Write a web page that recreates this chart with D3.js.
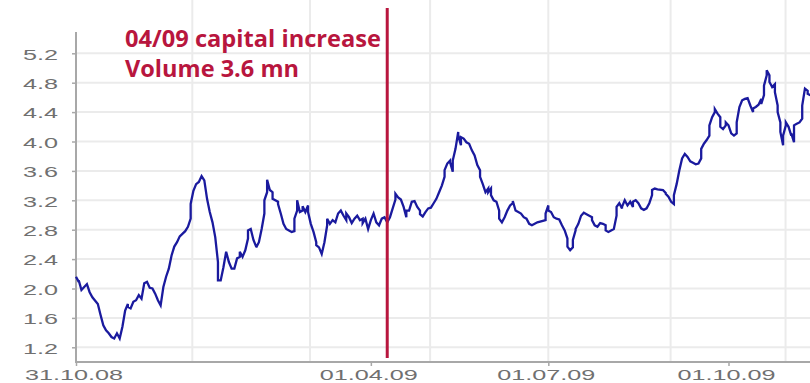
<!DOCTYPE html>
<html>
<head>
<meta charset="utf-8">
<script src="https://cdn.jsdelivr.net/npm/d3@7"></script>
<style>
  html, body { margin: 0; padding: 0; background: #fff; }
  svg { display: block; }
</style>
</head>
<body>
<svg id="chart" width="810" height="383"></svg>
<script>
// Share price, trading sessions counted from 31.10.08
const sessions = [
  0,1,1,2,3,4,5,6,8,9,10,11,12,13,14,15,16,17,18,19,19,20,21,22,23,24,25,26,27,28,
  29,30,31,32,33,34,35,36,37,38,40,41,42,42,43,44,45,46,47,48,49,50,51,52,52,53,54,55,56,57,
  58,59,60,60,61,62,63,63,64,65,66,66,67,68,69,69,70,70,71,72,72,74,74,75,76,77,78,79,80,80,
  81,81,82,83,83,84,85,85,86,87,88,88,89,90,91,92,92,93,94,95,96,97,98,99,99,100,101,102,103,104,
  105,105,106,107,108,109,110,111,112,113,114,115,116,117,117,118,119,120,121,121,122,123,124,125,126,126,127,128,129,130,
  131,132,133,134,135,135,136,137,137,138,138,139,140,140,141,141,142,143,144,145,146,147,148,148,149,150,151,151,152,152,
  153,154,155,155,156,157,158,159,160,160,161,162,163,164,165,166,167,168,169,171,172,172,173,173,174,175,176,177,178,179,
  180,180,181,182,182,183,183,184,185,186,187,188,189,189,190,191,192,193,194,194,195,196,197,198,198,199,200,200,201,202,
  203,204,204,205,206,207,208,209,210,211,211,212,213,215,216,216,217,218,219,219,220,221,222,223,224,225,226,227,228,229,
  229,230,231,232,232,233,234,234,235,236,236,237,238,238,239,240,241,242,242,243,244,245,246,247,248,248,249,250,251,251,
  252,252,253,253,254,254,255,256,256,257,257,258,258,259,259,260,260,261,262,262,263,263,264,265,266,266,267,268,268,269
];
const prices = [
  2.16,2.09,2.11,1.98,2.02,2.06,1.95,1.88,1.79,1.64,1.50,1.43,1.39,1.34,1.32,1.39,1.32,1.48,1.70,1.79,1.75,1.73,1.82,1.84,1.91,1.86,2.07,2.09,2.01,2.00,
  1.93,1.84,1.77,2.02,2.16,2.27,2.45,2.57,2.63,2.71,2.78,2.84,2.95,3.15,3.33,3.42,3.45,3.53,3.47,3.22,3.04,2.90,2.70,2.36,2.11,2.11,2.29,2.50,2.36,2.27,
  2.27,2.41,2.43,2.50,2.43,2.52,2.68,2.79,2.81,2.66,2.57,2.56,2.63,2.81,3.02,3.20,3.31,3.48,3.34,3.31,3.22,3.18,3.15,3.02,2.88,2.81,2.79,2.77,2.78,2.95,
  3.06,3.20,3.04,3.06,3.12,3.04,3.13,3.04,2.88,2.77,2.63,2.59,2.56,2.47,2.63,2.86,2.95,2.88,2.93,2.90,3.02,3.06,2.99,2.93,3.02,2.97,2.89,2.95,2.99,2.93,
  2.95,2.89,2.95,2.81,2.93,3.02,2.90,2.86,2.95,2.97,2.90,2.97,3.09,3.21,3.29,3.24,3.21,3.11,2.97,3.06,3.06,3.18,3.19,3.11,3.06,3.01,2.98,3.04,3.09,3.10,
  3.16,3.22,3.31,3.40,3.52,3.61,3.70,3.74,3.72,3.59,3.74,3.90,4.13,4.08,3.95,4.06,4.04,3.99,3.97,3.88,3.81,3.68,3.61,3.52,3.42,3.31,3.36,3.31,3.36,3.27,
  3.20,3.18,3.06,2.95,2.90,2.97,3.06,3.13,3.16,3.19,3.06,3.04,3.02,2.97,2.95,2.88,2.86,2.88,2.90,2.92,2.93,3.02,3.13,3.06,3.04,2.97,2.95,2.94,2.86,2.79,
  2.68,2.57,2.52,2.56,2.66,2.79,2.81,2.88,2.99,3.03,3.01,2.99,2.97,2.93,2.86,2.84,2.89,2.88,2.86,2.79,2.77,2.79,2.81,2.99,3.11,3.16,3.09,3.11,3.20,3.13,
  3.18,3.11,3.18,3.20,3.16,3.09,3.07,3.09,3.16,3.27,3.34,3.36,3.35,3.34,3.30,3.29,3.25,3.18,3.15,3.27,3.42,3.61,3.77,3.83,3.79,3.73,3.71,3.69,3.70,3.77,
  3.90,3.97,4.02,4.08,4.22,4.33,4.40,4.44,4.38,4.33,4.20,4.17,4.22,4.26,4.22,4.11,4.08,4.11,4.26,4.47,4.56,4.58,4.59,4.49,4.40,4.45,4.47,4.50,4.58,4.51,
  4.63,4.76,4.90,4.97,4.90,4.81,4.74,4.78,4.67,4.49,4.40,4.26,4.13,3.95,4.08,4.22,4.26,4.20,4.08,4.11,3.99,4.22,4.24,4.26,4.31,4.49,4.72,4.69,4.65,4.63
];

// Axis ticks
const yTicks = [1.2, 1.6, 2.0, 2.4, 2.8, 3.2, 3.6, 4.0, 4.4, 4.8, 5.2];
const xTickSessions = [0, 108, 173, 239];
const xTickLabels = ["31.10.08", "01.04.09", "01.07.09", "01.10.09"];
const xGridSessions = [42.6, 85.7, 129.7, 173, 217.8, 259.9];

// Event marker: capital increase, 9 April 2009
const markerSession = 114;
const markerNote = ["04/09 capital increase", "Volume 3.6 mn"];

const svg = d3.select("#chart");
const W = 810, H = 383;
const left = 76, bottom = 362;

const x = d3.scaleLinear().domain([0, 269]).range([left, 810.4]);
const y = d3.scaleLinear().domain([1.0, 5.5]).range([bottom, 31.25]);

const gridColor = "#ebebeb";
const axisColor = "#a8a8a8";
const labelColor = "#707070";
const red = "#b8163e";

// Horizontal grid
svg.append("g").selectAll("line").data(yTicks).join("line")
  .attr("x1", left).attr("x2", W)
  .attr("y1", d => y(d)).attr("y2", d => y(d))
  .attr("stroke", gridColor).attr("stroke-width", 2);

// Vertical grid
svg.append("g").selectAll("line").data(xGridSessions).join("line")
  .attr("x1", d => x(d)).attr("x2", d => x(d))
  .attr("y1", 0).attr("y2", bottom)
  .attr("stroke", gridColor).attr("stroke-width", 2);

// Y axis
const yAxis = svg.append("g")
  .attr("transform", `translate(${left},0)`)
  .call(d3.axisLeft(y).tickValues(yTicks).tickSize(4).tickFormat(d3.format(".1f")));
yAxis.select(".domain").remove();
yAxis.selectAll(".tick line").attr("stroke", axisColor).attr("stroke-width", 1.5);
yAxis.selectAll(".tick text").remove();
yAxis.selectAll(".tick").append("text")
  .attr("transform", "translate(-18,0) scale(1.8,1)")
  .attr("text-anchor", "end")
  .attr("dy", "0.42em")
  .attr("fill", labelColor)
  .style("font", "14px 'Liberation Sans', Arial, sans-serif")
  .text(d => d3.format(".1f")(d));
svg.append("line")
  .attr("x1", left).attr("x2", left).attr("y1", 32).attr("y2", bottom + 1)
  .attr("stroke", axisColor).attr("stroke-width", 2);

// X axis
const xAxis = svg.append("g")
  .attr("transform", `translate(0,${bottom})`)
  .call(d3.axisBottom(x).tickValues(xTickSessions).tickSize(4).tickFormat((d, i) => xTickLabels[i]));
xAxis.select(".domain").remove();
xAxis.selectAll(".tick line").attr("stroke", axisColor).attr("stroke-width", 1.5);
xAxis.selectAll(".tick text").remove();
xAxis.selectAll(".tick").append("text")
  .attr("transform", "translate(-2.5,18) scale(1.8,1)")
  .attr("text-anchor", "middle")
  .attr("fill", labelColor)
  .style("font", "14px 'Liberation Sans', Arial, sans-serif")
  .text((d, i) => xTickLabels[i]);
svg.append("line")
  .attr("x1", left).attr("x2", W).attr("y1", bottom).attr("y2", bottom)
  .attr("stroke", axisColor).attr("stroke-width", 2);

// Price line
const pts = sessions.map((s, i) => [s, prices[i]]);
svg.append("path")
  .datum(pts)
  .attr("fill", "none")
  .attr("stroke", "#1a1a9e")
  .attr("stroke-width", 2.3)
  .attr("stroke-linejoin", "miter")
  .attr("d", d3.line().x(d => x(d[0])).y(d => y(d[1])));

// Event marker line and note
svg.append("line")
  .attr("x1", x(markerSession)).attr("x2", x(markerSession))
  .attr("y1", 8).attr("y2", 358)
  .attr("stroke", red).attr("stroke-width", 3);

const noteWidths = [256, 174];
svg.append("g").selectAll("text").data(markerNote).join("text")
  .attr("x", 125)
  .attr("y", (d, i) => 47 + i * 30)
  .attr("fill", red)
  .attr("textLength", (d, i) => noteWidths[i])
  .attr("lengthAdjust", "spacingAndGlyphs")
  .style("font", "700 23px 'Open Sans', 'Noto Sans', sans-serif")
  .text(d => d);
</script>
</body>
</html>
